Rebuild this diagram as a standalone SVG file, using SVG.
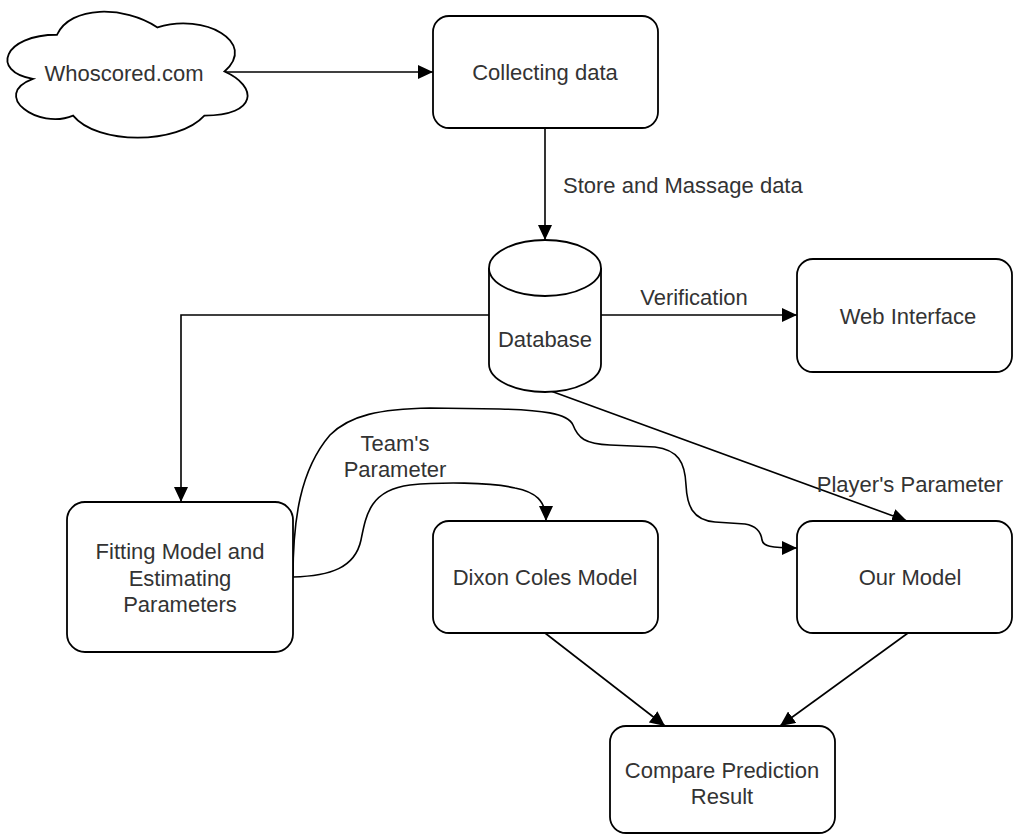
<svg xmlns="http://www.w3.org/2000/svg" width="1014" height="835" viewBox="0 0 1014 835">
  <style>
    .shape { fill: #ffffff; stroke: #000000; stroke-width: 1.8; }
    .edge { fill: none; stroke: #000000; stroke-width: 1.6; }
    .label { font-family: "Liberation Sans", Arial, sans-serif; font-size: 22px; fill: #333333; }
    .mid { text-anchor: middle; }
  </style>
  <defs>
    <marker id="arrow" viewBox="0 0 15 14" refX="15" refY="7" markerWidth="15" markerHeight="14" markerUnits="userSpaceOnUse" orient="auto">
      <path d="M0,0 L15,7 L0,14 Z" fill="#000000"/>
    </marker>
  </defs>
  <rect width="1014" height="835" fill="#ffffff"/>

  <!-- connectors -->
  <g id="edges">
    <path class="edge" d="M224,72 L433,72" marker-end="url(#arrow)"/>
    <path class="edge" d="M545,128 L545,240" marker-end="url(#arrow)"/>
    <path class="edge" d="M601,315 L797,315" marker-end="url(#arrow)"/>
    <path class="edge" d="M489,315 L181,315 L181,502" marker-end="url(#arrow)"/>
    <path class="edge" d="M548,390 L907,521" marker-end="url(#arrow)"/>
    <path class="edge" d="M293,577 C330,576 355,568 361,540 C366,515 370,490 410,485 C440,482 490,482 515,488 C535,492 546,500 546,521" marker-end="url(#arrow)"/>
    <path class="edge" d="M293,577 C293,520 300,470 330,435 C350,415 380,409 430,408 L500,409 C540,410 568,413 573,425 C578,438 585,444 610,445 L655,447 C678,450 685,462 686,485 C687,505 692,520 715,522 L745,524 C757,526 761,532 762,540 C763,546 770,548 797,548" marker-end="url(#arrow)"/>
    <path class="edge" d="M545,633 L665,726" marker-end="url(#arrow)"/>
    <path class="edge" d="M908,633 L780,726" marker-end="url(#arrow)"/>
    <text class="label" x="563" y="193">Store and Massage data</text>
    <text class="label mid" x="694" y="305">Verification</text>
    <text class="label mid" x="395" y="451">Team's</text>
    <text class="label mid" x="395" y="477">Parameter</text>
    <text class="label mid" x="910" y="492">Player's Parameter</text>
  </g>

  <g id="whoscored">
    <path class="shape" d="M57,34.75 C3.4,34.75 -10,71.5 32.9,78.85 C-10,95 38.2,130.3 73.1,115.6 C97.2,145 177.6,145 204.4,115.6 C258,115.6 258,86.2 224.5,71.5 C258,42.1 204.4,12.7 157.5,27.4 C124,5.35 70.4,5.35 57,34.75 Z"/>
    <text class="label mid" x="124" y="81">Whoscored.com</text>
  </g>

  <g id="collecting">
    <rect class="shape" x="433" y="16" width="225" height="112" rx="16"/>
    <text class="label mid" x="545" y="80">Collecting data</text>
  </g>

  <g id="database">
    <path class="shape" d="M489,268 A56,28 0 0 1 601,268 L601,364 A56,28 0 0 1 489,364 Z"/>
    <path class="shape" fill="none" d="M489,268 A56,28 0 0 0 601,268"/>
    <text class="label mid" x="545" y="347">Database</text>
  </g>

  <g id="web">
    <rect class="shape" x="797" y="259" width="215" height="113" rx="16"/>
    <text class="label mid" x="908" y="324">Web Interface</text>
  </g>

  <g id="fitting">
    <rect class="shape" x="67" y="502" width="226" height="150" rx="18"/>
    <text class="label mid" x="180" y="559">Fitting Model and</text>
    <text class="label mid" x="180" y="586">Estimating</text>
    <text class="label mid" x="180" y="612">Parameters</text>
  </g>

  <g id="dixon">
    <rect class="shape" x="433" y="521" width="225" height="112" rx="16"/>
    <text class="label mid" x="545" y="585">Dixon Coles Model</text>
  </g>

  <g id="ourmodel">
    <rect class="shape" x="797" y="521" width="215" height="112" rx="16"/>
    <text class="label mid" x="910" y="585">Our Model</text>
  </g>

  <g id="compare">
    <rect class="shape" x="610" y="726" width="225" height="107" rx="16"/>
    <text class="label mid" x="722" y="778">Compare Prediction</text>
    <text class="label mid" x="722" y="804">Result</text>
  </g>
</svg>
